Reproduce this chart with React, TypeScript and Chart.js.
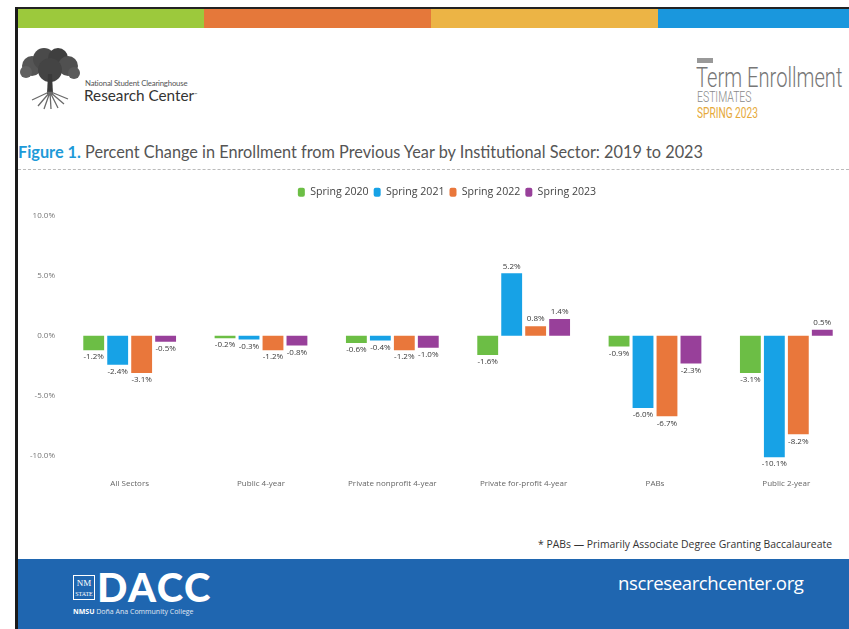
import React, { useEffect, useRef } from "react";
import { Chart, registerables } from "chart.js";

Chart.register(...registerables);

const categories = [
  "All Sectors",
  "Public 4-year",
  "Private nonprofit 4-year",
  "Private for-profit 4-year",
  "PABs",
  "Public 2-year",
];
const seriesNames = ["Spring 2020", "Spring 2021", "Spring 2022", "Spring 2023"];
const spring2020 = [-1.2, -0.2, -0.6, -1.6, -0.9, -3.1];
const spring2021 = [-2.4, -0.3, -0.4, 5.2, -6.0, -10.1];
const spring2022 = [-3.1, -1.2, -1.2, 0.8, -6.7, -8.2];
const spring2023 = [-0.5, -0.8, -1.0, 1.4, -2.3, 0.5];
const yTicks = [-10, -5, 0, 5, 10];
const seriesColors = ["#6cbe45", "#17a2e6", "#e9773b", "#98409a"];

const FONT = "'Open Sans', 'DejaVu Sans', sans-serif";

const valueLabels = {
  id: "valueLabels",
  afterDatasetsDraw(chart: any) {
    const ctx = chart.ctx;
    ctx.save();
    ctx.font = "8px " + FONT;
    ctx.fillStyle = "#3a3a3a";
    ctx.textAlign = "center";
    chart.data.datasets.forEach((ds: any, i: number) => {
      const meta = chart.getDatasetMeta(i);
      meta.data.forEach((el: any, j: number) => {
        const v = ds.data[j] as number;
        const txt = v.toFixed(1) + "%";
        if (v >= 0) {
          ctx.textBaseline = "bottom";
          ctx.fillText(txt, el.x, el.y - 3);
        } else {
          ctx.textBaseline = "top";
          ctx.fillText(txt, el.x, el.y + 3);
        }
      });
    });
    ctx.restore();
  },
};

// adds empty room under the legend so the plot starts lower, and nudges it right
const legendSpacer = {
  id: "legendSpacer",
  beforeUpdate(chart: any) {
    const lg = chart.legend;
    if (lg && !lg.__patched) {
      const orig = lg.fit;
      lg.fit = function () {
        orig.call(this);
        this.height += 8;
      };
      lg.__patched = true;
    }
  },
  afterLayout(chart: any) {
    const lg = chart.legend;
    if (lg) {
      lg.left += 9;
      lg.right += 9;
    }
  },
};

function Tree() {
  return (
    <svg width="64" height="62" viewBox="0 0 64 62" style={{ position: "absolute", left: 18, top: 48 }}>
      <circle cx="14" cy="18" r="10" fill="#555" />
      <circle cx="26" cy="11" r="11" fill="#4a4a4a" />
      <circle cx="40" cy="10" r="10" fill="#3f3f3f" />
      <circle cx="50" cy="18" r="10" fill="#505050" />
      <circle cx="32" cy="22" r="12" fill="#444" />
      <circle cx="8" cy="24" r="6" fill="#606060" />
      <circle cx="56" cy="25" r="6" fill="#5a5a5a" />
      <path d="M30 26 L29 46 L35 46 L34 26 Z" fill="#3a3a3a" />
      <path d="M32 44 L20 58 M32 44 L26 61 M32 44 L33 61 M32 44 L40 60 M32 44 L46 56 M31 44 L14 52 M33 44 L50 51" stroke="#6a6a6a" strokeWidth="1.3" />
    </svg>
  );
}

function Squeeze({ scale, style, children }: any) {
  return (
    <div style={{ position: "absolute", whiteSpace: "nowrap", transformOrigin: "left top", transform: `scaleX(${scale})`, ...style }}>
      {children}
    </div>
  );
}

export default function App() {
  const canvasRef = useRef<HTMLCanvasElement | null>(null);

  useEffect(() => {
    if (!canvasRef.current) return;
    const data = [spring2020, spring2021, spring2022, spring2023];
    const chart = new Chart(canvasRef.current, {
      type: "bar",
      data: {
        labels: categories,
        datasets: seriesNames.map((name, i) => ({
          label: name,
          data: data[i],
          backgroundColor: seriesColors[i],
          borderWidth: 0,
          barPercentage: 0.87,
          categoryPercentage: 0.73,
        })),
      },
      options: {
        animation: false,
        responsive: false,
        maintainAspectRatio: false,
        layout: { padding: { top: 4, left: 0, right: 2, bottom: 0 } },
        plugins: {
          legend: {
            display: true,
            position: "top",
            labels: {
              boxWidth: 7,
              boxHeight: 9,
              useBorderRadius: true,
              borderRadius: 2,
              padding: 5,
              color: "#444",
              font: { family: FONT, size: 10.6 },
            },
          },
          tooltip: { enabled: false },
          title: { display: false },
        },
        scales: {
          x: {
            grid: { display: false, drawTicks: false },
            border: { display: false },
            ticks: {
              color: "#666",
              font: { family: FONT, size: 8 },
              padding: 11,
              maxRotation: 0,
              autoSkip: false,
            },
            afterFit: (s: any) => {
              s.height = 28;
            },
          },
          y: {
            min: -11,
            max: 10,
            grid: { display: false, drawTicks: false },
            border: { display: false },
            afterBuildTicks: (s: any) => {
              s.ticks = yTicks.map((v) => ({ value: v }));
            },
            afterFit: (s: any) => {
              s.width = 40;
            },
            ticks: {
              color: "#777",
              font: { family: FONT, size: 8 },
              padding: 9,
              callback: (v: any) => Number(v).toFixed(1) + "%",
            },
          },
        },
      },
      plugins: [valueLabels, legendSpacer],
    });
    return () => chart.destroy();
  }, []);

  return (
    <div
      style={{
        position: "absolute",
        left: 0,
        top: 0,
        width: 849,
        height: 629,
        overflow: "hidden",
        background: "#fff",
        fontFamily: FONT,
      }}
    >
      {/* frame edges */}
      <div style={{ position: "absolute", left: 15, top: 7, width: 834, height: 2, background: "#222" }} />
      <div style={{ position: "absolute", left: 15, top: 7, width: 3, height: 622, background: "#1a1a1a" }} />
      {/* colour stripe */}
      <div style={{ position: "absolute", left: 18, top: 9, width: 186, height: 19, background: "#9cc93c" }} />
      <div style={{ position: "absolute", left: 204, top: 9, width: 227, height: 19, background: "#e5783a" }} />
      <div style={{ position: "absolute", left: 431, top: 9, width: 227, height: 19, background: "#ecb445" }} />
      <div style={{ position: "absolute", left: 658, top: 9, width: 191, height: 19, background: "#1a97dd" }} />

      {/* left logo */}
      <Tree />
      <div style={{ position: "absolute", left: 85, top: 78, fontSize: 7.8, color: "#555", whiteSpace: "nowrap", fontFamily: "Lato, sans-serif", letterSpacing: -0.2 }}>
        National Student Clearinghouse
      </div>
      <div style={{ position: "absolute", left: 84, top: 86, fontSize: 15.3, color: "#333", whiteSpace: "nowrap", fontFamily: "Lato, sans-serif", lineHeight: "18px" }}>
        Research Center<span style={{ fontSize: 4, verticalAlign: "top" }}>™</span>
      </div>

      {/* right logo */}
      <div style={{ position: "absolute", left: 697, top: 58, width: 16, height: 5, background: "#999" }} />
      <Squeeze scale={0.72} style={{ left: 696, top: 63, fontSize: 28, fontWeight: 300, color: "#777", fontFamily: "Roboto, sans-serif", lineHeight: "30px" }}>
        Term Enrollment
      </Squeeze>
      <Squeeze scale={0.72} style={{ left: 697, top: 90, fontSize: 14.5, fontWeight: 300, color: "#888", fontFamily: "Roboto, sans-serif", lineHeight: "15px" }}>
        ESTIMATES
      </Squeeze>
      <Squeeze scale={0.7} style={{ left: 697, top: 106, fontSize: 14.5, color: "#e6a93a", fontFamily: "Roboto, sans-serif", lineHeight: "15px" }}>
        SPRING 2023
      </Squeeze>

      {/* title */}
      <div style={{ position: "absolute", left: 18, top: 141, fontSize: 16.3, color: "#555", whiteSpace: "nowrap", fontFamily: "Lato, sans-serif", lineHeight: "22px" }}>
        <span style={{ color: "#1e9ad8", fontWeight: 700 }}>Figure 1.</span> Percent Change in Enrollment from Previous Year by Institutional Sector: 2019 to 2023
      </div>
      <div style={{ position: "absolute", left: 18, top: 169, width: 831, height: 0, borderTop: "1px dashed #bbb" }} />

      {/* chart */}
      <canvas
        ref={canvasRef}
        width={830}
        height={318}
        style={{ position: "absolute", left: 24, top: 178, width: 830, height: 318 }}
      />

      {/* footnote */}
      <div style={{ position: "absolute", right: 17, top: 537, fontSize: 10.4, color: "#333", whiteSpace: "nowrap" }}>
        * PABs — Primarily Associate Degree Granting Baccalaureate
      </div>

      {/* footer */}
      <div style={{ position: "absolute", left: 18, top: 559, width: 831, height: 70, background: "#1f66b0" }} />
      <div style={{ position: "absolute", left: 73, top: 575, width: 22, height: 25, border: "1px solid #fff", color: "#fff", fontFamily: "'Liberation Serif', serif", fontSize: 9, lineHeight: "10px", textAlign: "center", boxSizing: "border-box", paddingTop: 2 }}>
        NM<br /><span style={{ fontSize: 6 }}>STATE</span>
      </div>
      <div style={{ position: "absolute", left: 97, top: 567, color: "#fff", fontSize: 40, fontWeight: 900, fontFamily: "Lato, sans-serif", letterSpacing: 1.5, lineHeight: "40px" }}>
        DACC
      </div>
      <div style={{ position: "absolute", left: 73, top: 607, color: "#fff", fontSize: 7, whiteSpace: "nowrap" }}>
        <b>NMSU</b> <span style={{ opacity: 0.85 }}>Doña Ana Community College</span>
      </div>
      <div style={{ position: "absolute", left: 618, top: 570, color: "#fff", fontSize: 18.6, whiteSpace: "nowrap", fontFamily: "'Open Sans', sans-serif", letterSpacing: -0.4 }}>
        nscresearchcenter.org
      </div>
    </div>
  );
}
